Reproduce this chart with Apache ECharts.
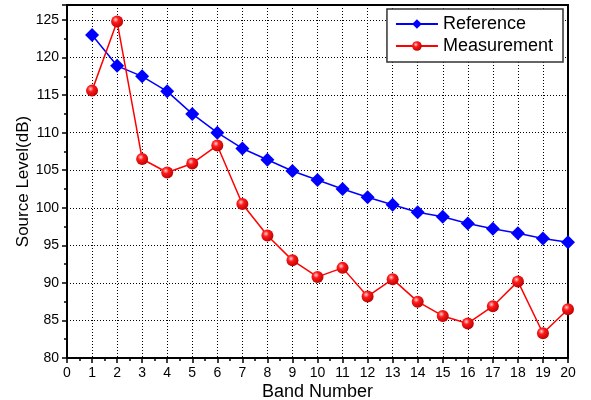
<!DOCTYPE html>
<html>
<head>
<meta charset="utf-8">
<script src="https://cdn.jsdelivr.net/npm/echarts@6/dist/echarts.min.js"></script>
<style>
  html, body { margin: 0; padding: 0; background: #fff; }
  #chart { width: 591px; height: 400px; }
</style>
</head>
<body>
<div id="chart"></div>
<script>
var bands = [1, 2, 3, 4, 5, 6, 7, 8, 9, 10, 11, 12, 13, 14, 15, 16, 17, 18, 19, 20];
var reference = [123, 118.9, 117.5, 115.5, 112.5, 110, 107.9, 106.4, 104.9, 103.7,
                 102.5, 101.4, 100.4, 99.4, 98.8, 97.9, 97.2, 96.6, 95.9, 95.4];
var measurement = [115.6, 124.8, 106.5, 104.7, 105.9, 108.3, 100.5, 96.3, 93.0, 90.8,
                   92.0, 88.2, 90.5, 87.5, 85.6, 84.6, 86.9, 90.2, 83.3, 86.5];

(function () {
    function pairs(ys) {
        return bands.map(function (b, i) { return [b, ys[i]]; });
    }

    var ball = {
        type: 'radial', x: 0.38, y: 0.35, r: 0.7,
        colorStops: [
            { offset: 0, color: '#ffd0d0' },
            { offset: 0.35, color: '#ff1a1a' },
            { offset: 1, color: '#b80000' }
        ]
    };

    var font = 'Liberation Sans, Arial, sans-serif';
    var dotted = { show: true, lineStyle: { color: '#000', type: [1, 2], width: 1 } };

    var chart = echarts.init(document.getElementById('chart'));
    chart.setOption({
        animation: false,
        textStyle: { fontFamily: font },
        grid: {
            left: 67, right: 23, top: 5, bottom: 42,
            outerBoundsMode: 'none',
            containLabel: false,
            show: true, borderColor: '#000', borderWidth: 2
        },
        legend: {
            right: 28, top: 9,
            orient: 'vertical',
            backgroundColor: '#fff',
            borderColor: '#333', borderWidth: 1.5,
            padding: [6, 10, 7, 8],
            itemGap: 4,
            itemWidth: 42, itemHeight: 12,
            textStyle: { fontSize: 18, color: '#000', fontFamily: font },
            data: ['Reference', 'Measurement']
        },
        xAxis: {
            type: 'value',
            min: 0, max: 20, interval: 1,
            name: 'Band Number',
            nameLocation: 'middle',
            nameGap: 25,
            nameMoveOverlap: false,
            nameTextStyle: { fontSize: 18, color: '#000' },
            axisLine: { show: true, lineStyle: { color: '#000', width: 2 } },
            axisTick: { show: true, inside: false, length: 5, lineStyle: { color: '#000', width: 1.5 } },
            minorTick: { show: true, splitNumber: 2, length: 3, lineStyle: { color: '#000', width: 1.5 } },
            axisLabel: { fontSize: 14, color: '#000', margin: 8 },
            splitLine: dotted
        },
        yAxis: {
            type: 'value',
            min: 80, max: 127, interval: 5,
            name: 'Source Level(dB)',
            nameLocation: 'middle',
            nameGap: 35,
            nameMoveOverlap: false,
            nameTextStyle: { fontSize: 17, color: '#000' },
            axisLine: { show: true, lineStyle: { color: '#000', width: 2 } },
            axisTick: { show: true, inside: false, length: 5, lineStyle: { color: '#000', width: 1.5 } },
            minorTick: { show: true, splitNumber: 2, length: 3, lineStyle: { color: '#000', width: 1.5 } },
            axisLabel: {
                fontSize: 14, color: '#000', margin: 8,
                formatter: function (v) { return v > 125 ? '' : v; }
            },
            splitLine: dotted
        },
        series: [
            {
                name: 'Reference', type: 'line', data: pairs(reference),
                symbol: 'diamond', symbolSize: 14,
                lineStyle: { color: '#0000ff', width: 1.5 },
                itemStyle: { color: '#0000ff' }
            },
            {
                name: 'Measurement', type: 'line', data: pairs(measurement),
                symbol: 'circle', symbolSize: 12,
                lineStyle: { color: '#ff0000', width: 1.5 },
                itemStyle: { color: ball, borderWidth: 0 }
            }
        ]
    });
})();
</script>
</body>
</html>
